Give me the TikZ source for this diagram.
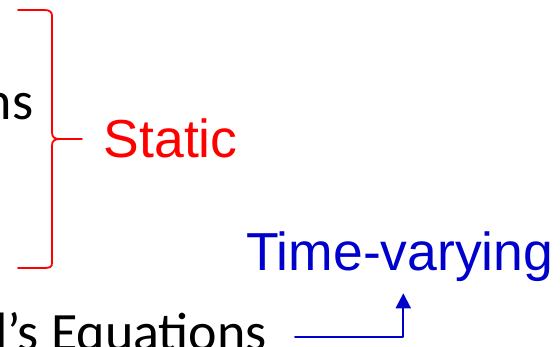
\documentclass[tikz,border=0pt]{standalone}
\usepackage{fontspec}
\setmainfont{Carlito}
\newfontfamily\arialfont{Liberation Sans}
\usetikzlibrary{arrows.meta}
\definecolor{bracered}{RGB}{255,0,0}
\definecolor{tvblue}{RGB}{0,0,205}
\begin{document}
\begin{tikzpicture}[
		x=1pt, y=1pt,
		line join=round, 
		line cap=round, 
		>={Triangle[width=15pt,length=15pt]},
		blacktext/.style={inner sep=0pt, font=\fontsize{54}{63}\selectfont},
		redtext/.style={inner sep=0pt, text=bracered, font=\arialfont\fontsize{53.5}{62}\selectfont},
		bluetext/.style={inner sep=0pt, text=tvblue, font=\arialfont\fontsize{53.5}{62}\selectfont}
		]
		
		\useasboundingbox (0,0) rectangle (560,346);
		\clip (0,0) rectangle (560,346);
		
		\node[blacktext, anchor=base east] (eqtop) at (33.5,226) {ns};
		\node[blacktext, anchor=base east] (eqbot) at (267,-4) {l’s Equations};
		
		\draw[bracered, line width=1.8pt] 
		(18,336) -- (44,336) .. controls (50,336) and (52,334) .. (52,330) -- 
		(52,214) .. controls (52,209) and (54,207) .. (60,207) -- (82,207);
		\draw[bracered, line width=1.8pt] 
		(60,207) .. controls (54,207) and (52,205) .. (52,200) -- 
		(52,83) .. controls (52,79) and (50,78) .. (44,78) -- (18,78);
		
		\node[redtext, anchor=base west] (static) at (103.6,188.5) {Static};
		\node[bluetext, anchor=base west] (tv) at (246,76) {Time-varying};
		
		\coordinate (arrstart) at (295,9);
		\draw[->, tvblue, line width=2pt] 
		(arrstart) -| ([xshift=3.5pt, yshift=-12pt]tv.south);
		
	\end{tikzpicture}
\end{document}
